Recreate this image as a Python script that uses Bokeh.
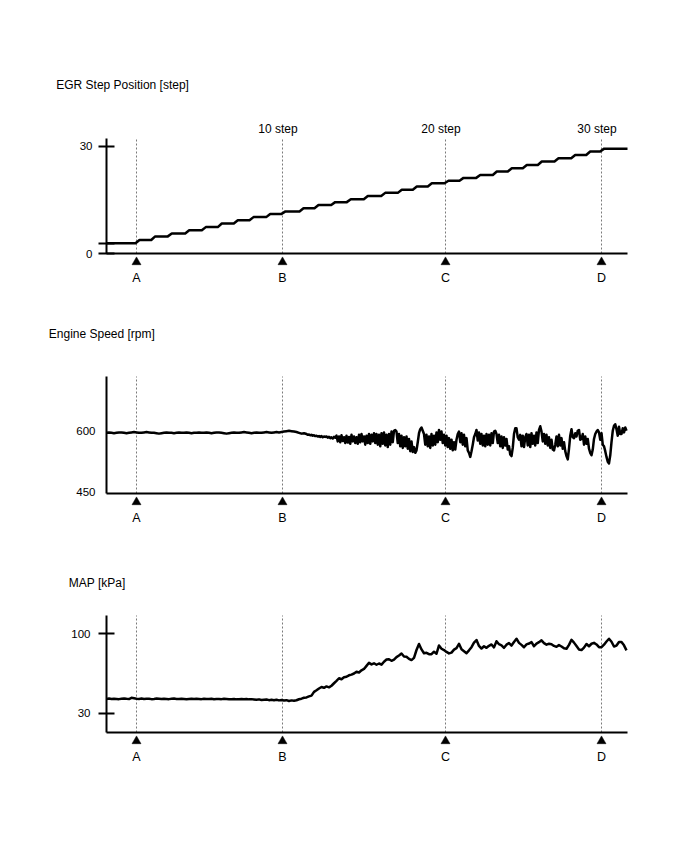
import numpy as np
from bokeh.plotting import figure
from bokeh.models import Range1d, FixedTicker, Label
from bokeh.layouts import column
from bokeh.embed import file_html
from bokeh.resources import INLINE

FONT = "Liberation Sans"

# ---------------- data ----------------
marker_names = ["A", "B", "C", "D"]
marker_x = [3.0, 17.6, 33.9, 49.5]
step_label_text = ["10 step", "20 step", "30 step"]
step_label_x = [17.6, 33.9, 49.5]

# EGR step: times of each step rise and levels (level before first rise, then after each rise)
egr_rise_t = [3.0, 4.57, 6.23, 7.97, 9.63, 11.23, 12.83, 14.4, 16.07, 17.6,
              19.4, 20.9, 22.57, 24.13, 25.83, 27.57, 29.23, 30.73, 32.23, 33.9,
              35.4, 37.07, 38.73, 40.23, 41.73, 43.23, 44.9, 46.57, 48.07, 49.47]
egr_levels = [2.9, 3.8, 4.8, 5.6, 6.5, 7.4, 8.4, 9.3, 10.2, 11.1,
              11.8, 12.7, 13.6, 14.4, 15.2, 16.1, 17.0, 17.9, 18.8, 19.7,
              20.4, 21.2, 22.0, 23.0, 23.9, 24.8, 25.8, 26.7, 27.6, 28.6, 29.4]

# sampling times: 0.25 s steps up to 20, then 0.125 s steps (engine speed)
map_t = np.arange(209) * 0.25
engine_t = np.concatenate([np.arange(80) * 0.25, 20 + np.arange(257) * 0.125])

engine_rpm = [
    595, 596, 595, 594, 595, 596, 596, 595, 594, 595,
    596, 597, 596, 595, 595, 596, 597, 596, 595, 595,
    594, 593, 594, 595, 596, 595, 595, 594, 595, 596,
    595, 595, 596, 595, 594, 595, 595, 596, 595, 595,
    596, 595, 594, 595, 596, 596, 595, 594, 593, 594,
    595, 596, 595, 595, 596, 597, 596, 595, 594, 595,
    596, 595, 595, 596, 597, 596, 595, 596, 597, 596,
    597, 598, 599, 600, 599, 598, 597, 595, 593, 594,
    # from t = 20, every 0.125
    592, 590, 591, 589, 590, 588, 589, 587,
    588, 586, 587, 585, 587, 584, 586, 585,
    586, 583, 585, 582, 584, 581, 585, 583,
    588, 574, 586, 572, 589, 575, 584, 570,
    588, 571, 585, 568, 590, 574, 586, 570,
    584, 568, 590, 572, 592, 574, 586, 566,
    588, 570, 592, 568, 590, 574, 594, 570,
    592, 566, 590, 562, 594, 568, 596, 564,
    590, 560, 592, 566, 598, 572, 600, 602,
    598, 570, 592, 562, 588, 558, 584, 562,
    586, 556, 580, 550, 574, 548, 560, 546,
    552, 572, 594, 604, 608, 600, 592, 566,
    590, 562, 586, 558, 592, 564, 588, 566,
    596, 572, 602, 578, 598, 570, 590, 564,
    588, 560, 582, 556, 578, 552, 572, 554,
    578, 592, 598, 572, 594, 566, 590, 562,
    582, 552, 546, 536, 550, 566, 584, 592,
    602, 576, 596, 568, 592, 564, 588, 562,
    592, 566, 590, 564, 594, 570, 598, 600,
    592, 570, 590, 562, 586, 558, 584, 564,
    580, 554, 562, 542, 538, 558, 592, 606,
    606, 584, 578, 590, 562, 588, 560, 584,
    592, 564, 590, 560, 594, 568, 588, 564,
    596, 570, 602, 611, 598, 574, 592, 568,
    590, 564, 584, 558, 578, 554, 552, 566,
    586, 562, 590, 564, 582, 556, 572, 550,
    538, 530, 556, 588, 604, 584, 582, 594,
    586, 600, 602, 578, 580, 592, 566, 586,
    568, 580, 556, 546, 540, 554, 580, 592,
    598, 602, 596, 578, 594, 566, 562, 550,
    536, 524, 520, 540, 572, 600, 612, 616,
    604, 588, 610, 592, 592, 606, 596, 608,
    600,
]

map_kpa = [
    42.6, 42.9, 42.5, 42.8, 42.6, 42.4, 42.8, 43.0, 42.7, 42.5,
    43.6, 43.2, 42.8, 42.6, 42.9, 42.5, 42.7, 42.8, 42.4, 42.6,
    42.9, 42.7, 42.5, 42.8, 42.6, 42.4, 42.7, 42.9, 42.6, 42.5,
    42.8, 42.6, 42.4, 42.6, 42.8, 42.5, 42.7, 42.6, 42.4, 42.8,
    42.6, 42.5, 42.7, 42.3, 42.5, 42.6, 42.4, 42.7, 42.5, 42.3,
    42.4, 42.6, 42.2, 42.4, 42.5, 42.3, 42.6, 42.2, 42.4, 42.1,
    41.8, 42.2, 41.6, 41.9, 42.1, 41.5, 41.8, 41.4, 41.9, 41.3,
    41.6,
    41.2, 41.5, 40.8, 41.3, 40.9, 41.4, 42.3, 42.8, 43.6,
    43.9, 44.8, 45.5, 48.8, 50.2, 51.8, 53.1, 52.4, 53.6, 52.8,
    54.2, 56.4, 58.5, 60.8, 59.9, 61.7, 62.1, 63.4, 64.0, 65.0,
    66.6, 65.9, 67.8, 69.0, 71.7, 74.4, 73.0, 74.0, 72.7, 73.8,
    72.8, 75.4, 77.3, 77.6, 76.2, 77.2, 79.4, 80.8, 82.6, 80.0,
    79.8, 77.9, 76.8, 78.8, 85.7, 91.0, 86.2, 82.8, 83.2, 82.0,
    82.0, 84.2, 82.4, 89.7, 86.8, 85.6, 84.0, 82.7, 83.4, 86.0,
    87.3, 91.2, 86.3, 84.6, 82.8, 85.4, 88.2, 92.2, 94.5, 89.3,
    87.0, 89.0, 87.6, 89.4, 90.6, 88.0, 93.4, 90.8, 89.8, 87.6,
    90.4, 91.8, 89.6, 92.8, 95.6, 92.0, 90.2, 88.1, 90.6, 91.4,
    92.6, 89.0, 91.4, 92.6, 94.2, 91.8, 90.4, 91.2, 90.8, 89.3,
    88.5, 90.0, 88.8, 87.2, 86.8, 90.2, 94.7, 92.2, 89.2, 86.2,
    85.6, 87.8, 91.0, 89.0, 91.2, 92.0, 90.6, 88.2, 88.2, 90.4,
    93.2, 95.6, 93.0, 88.8, 89.6, 92.8, 92.8, 89.8, 85.4,
]

# ---------------- layout ----------------
W = 688
LEFT, RIGHT = 106, 61
X_END = 52.1
PX_PER_X = (W - LEFT - RIGHT) / X_END


def make_panel(height, frame_top, baseline, y0, y1, ticks, overrides, tick_in,
               tick_out, standoff, title, title_xpx, title_ypx):
    ppu = (baseline - frame_top) / (y1 - y0)
    ys = y0 - (height - baseline) / ppu
    ye = y1 + frame_top / ppu
    xs = -LEFT / PX_PER_X
    xe = X_END + RIGHT / PX_PER_X
    p = figure(width=W, height=height, output_backend="svg", toolbar_location=None,
               x_range=Range1d(xs, xe), y_range=Range1d(ys, ye))
    p.min_border = 0
    p.min_border_left = 0
    p.min_border_right = 0
    p.min_border_top = 0
    p.min_border_bottom = 0
    p.grid.visible = False
    p.outline_line_color = None
    p.background_fill_color = "white"
    p.border_fill_color = "white"
    p.title.visible = False

    ya = p.yaxis[0]
    ya.fixed_location = 0
    ya.bounds = (y0, y1)
    ya.ticker = FixedTicker(ticks=ticks)
    ya.major_label_overrides = overrides
    ya.axis_line_width = 2
    ya.axis_line_color = "black"
    ya.major_tick_line_width = 2
    ya.major_tick_line_color = "black" if (tick_in or tick_out) else None
    ya.major_tick_in = tick_in
    ya.major_tick_out = tick_out
    ya.minor_tick_line_color = None
    ya.major_label_standoff = standoff
    ya.major_label_text_font = FONT
    ya.major_label_text_font_size = "11.5px"
    ya.major_label_text_color = "black"

    xa = p.xaxis[0]
    xa.fixed_location = y0
    xa.bounds = (0, X_END)
    xa.ticker = FixedTicker(ticks=[])
    xa.axis_line_width = 2
    xa.axis_line_color = "black"
    xa.major_tick_line_color = None
    xa.minor_tick_line_color = None

    def ydata(ycanvas):
        return y1 + (frame_top - ycanvas) / ppu

    def xdata(xpx):
        return (xpx - LEFT) / PX_PER_X

    # dashed event lines
    p.segment(x0=marker_x, y0=[y0] * len(marker_x), x1=marker_x, y1=[y1] * len(marker_x),
              line_color="#7a7a7a", line_width=1, line_dash="2 2")

    p.add_layout(Label(x=xdata(title_xpx), y=ydata(title_ypx), text=title,
                       text_font=FONT, text_font_size="12px", text_align="left",
                       text_baseline="alphabetic", text_color="black"))

    # event markers below the time axis
    p.scatter(marker_x, [ydata(baseline + 8.6)] * len(marker_x), marker="triangle",
              size=9, fill_color="black", line_color="black", line_width=0.5)
    for name, mx in zip(marker_names, marker_x):
        p.add_layout(Label(x=mx, y=ydata(baseline + 24.5), text=name,
                           text_font=FONT, text_font_size="12.5px",
                           text_align="center", text_baseline="alphabetic",
                           text_color="black"))
    return p, ydata


# Panel 1: EGR step position
p1, yd1 = make_panel(300, 138, 253, 0, 32.24, [0, egr_levels[0], 30],
                     {egr_levels[0]: ""}, 8, 8, 6,
                     "EGR Step Position [step]", 55.7, 84)
sx, sy = [0.0], [egr_levels[0]]
for i, t in enumerate(egr_rise_t):
    sx += [t - 0.1, t + 0.3]
    sy += [egr_levels[i], egr_levels[i + 1]]
sx.append(X_END)
sy.append(egr_levels[-1])
p1.line(sx, sy, line_color="black", line_width=2.5, line_join="round")
for txt, lx in zip(step_label_text, step_label_x):
    p1.add_layout(Label(x=lx - 0.45, y=yd1(128.5), text=txt, text_font=FONT,
                        text_font_size="12px", text_align="center",
                        text_baseline="alphabetic", text_color="black"))

# Panel 2: engine speed
p2, yd2 = make_panel(240, 76, 193, 446.3, 733, [450, 600], {}, 0, 0, 11,
                     "Engine Speed [rpm]", 48.3, 33)
p2.line(engine_t, engine_rpm, line_color="black", line_width=2.5, line_join="round")

# Panel 3: MAP
p3, yd3 = make_panel(312, 75, 192, 13.0, 116.1, [30, 100], {}, 8, 8, 8,
                     "MAP [kPa]", 68.3, 42)
p3.line(map_t, map_kpa, line_color="black", line_width=2.5, line_join="round")

layout = column(p1, p2, p3, spacing=0)
open("out.html", "w").write(file_html(layout, INLINE))
